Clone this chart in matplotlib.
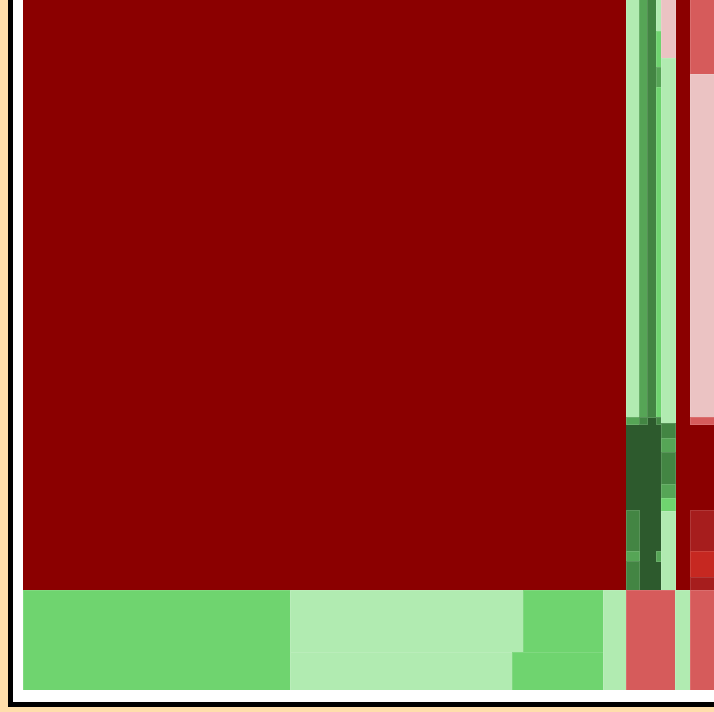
import matplotlib
matplotlib.use("Agg")
import matplotlib.pyplot as plt
from matplotlib.patches import Rectangle

# cell sizes (market value units) and daily change bucket (-5 .. +5)
# column A: the large block and the strip of cells below it
a_block = [356976]
a_block_chg = [-5]
a_strip_left = [26700]
a_strip_left_chg = [2]
a_strip_mid_top = [14446, 4960]
a_strip_mid_top_chg = [1, 2]
a_strip_mid_bot = [8436, 3458]
a_strip_mid_bot_chg = [1, 2]
a_strip_right = [2300]
a_strip_right_chg = [1]

# column B: green cluster over one losing cell
b_upper_1 = [5447, 91]
b_upper_1_chg = [1, 3]
b_upper_2 = [3352, 56]
b_upper_2_chg = [3, 4]
b_upper_3 = [3771, 63]
b_upper_3_chg = [4, 5]
b_upper_4 = [165, 180, 100, 1650, 35]
b_upper_4_chg = [1, 2, 3, 2, 4]
b_lower_1 = [1118, 533, 130, 377]
b_lower_1_chg = [5, 4, 3, 4]
b_lower_2 = [2822]
b_lower_2_chg = [5]
b_lower_3 = [635, 50, 145]
b_lower_3_chg = [5, 3, 5]
b_side = [840, 5110, 210, 196, 448, 196, 182, 1106]
b_side_chg = [-1, 1, 4, 3, 4, 3, 2, 1]
b_bottom = [4900]
b_bottom_chg = [-2]

# column C
c_cells = [8880, 1500]
c_cells_chg = [-5, 1]

# column D
d_cells = [1976, 8918, 182, 2236, 1066, 676, 338, 2600]
d_cells_chg = [-2, -1, -2, -5, -4, -3, -4, -2]

palette = {
    1: "#b1ebb1", 2: "#6fd46f", 3: "#56a556", 4: "#438543", 5: "#2d5a2d",
    -1: "#ebc3c3", -2: "#d65b5b", -3: "#c62821", -4: "#a61d1d", -5: "#8b0000",
}


def leaves(sizes, changes):
    return [(s, c) for s, c in zip(sizes, changes)]


def weight(node):
    if isinstance(node, tuple):
        return node[0]
    return sum(weight(n) for n in node)


def layout(node, x, y, w, h, vertical, out):
    # slice-and-dice: alternate between splitting along x and along y
    if isinstance(node, tuple):
        out.append((x, y, w, h, node[1]))
        return
    total = weight(node)
    for child in node:
        frac = weight(child) / total
        if vertical:
            layout(child, x, y, w, h * frac, not vertical, out)
            y += h * frac
        else:
            layout(child, x, y, w * frac, h, not vertical, out)
            x += w * frac


col_a = [
    leaves(a_block, a_block_chg),
    [
        leaves(a_strip_left, a_strip_left_chg),
        [leaves(a_strip_mid_top, a_strip_mid_top_chg),
         leaves(a_strip_mid_bot, a_strip_mid_bot_chg)],
        leaves(a_strip_right, a_strip_right_chg),
    ],
]
col_b = [
    [
        [
            [leaves(b_upper_1, b_upper_1_chg), leaves(b_upper_2, b_upper_2_chg),
             leaves(b_upper_3, b_upper_3_chg), leaves(b_upper_4, b_upper_4_chg)],
            [leaves(b_lower_1, b_lower_1_chg), leaves(b_lower_2, b_lower_2_chg),
             leaves(b_lower_3, b_lower_3_chg)],
        ],
        leaves(b_side, b_side_chg),
    ],
    leaves(b_bottom, b_bottom_chg),
]
col_c = leaves(c_cells, c_cells_chg)
col_d = leaves(d_cells, d_cells_chg)
tree = [col_a, col_b, col_c, col_d]

W, H = 693, 692
cells = []
layout(tree, 0, 0, W, H, False, cells)

fig = plt.figure(figsize=(7.14, 7.12), dpi=100, facecolor="#ffdeab")
# framed white panel behind the map
fig.patches.append(Rectangle((9.5 / 714, 8.5 / 712), 1.2, 1.2, transform=fig.transFigure,
                             facecolor="white", edgecolor="black", linewidth=3.6,
                             zorder=-1))

ax = fig.add_axes([23 / 714, 22 / 712, W / 714, H / 712])
ax.set_xlim(0, W)
ax.set_ylim(H, 0)
ax.axis("off")

for x, y, w, h, chg in cells:
    dark = abs(chg) == 5
    ax.add_patch(Rectangle((x, y), w, h, facecolor=palette[chg],
                           edgecolor="none" if dark else (1, 1, 1, 0.12),
                           linewidth=0.5, antialiased=False,
                           zorder=1 if dark else 2))

fig.savefig("out.png", dpi=100, facecolor=fig.get_facecolor())
